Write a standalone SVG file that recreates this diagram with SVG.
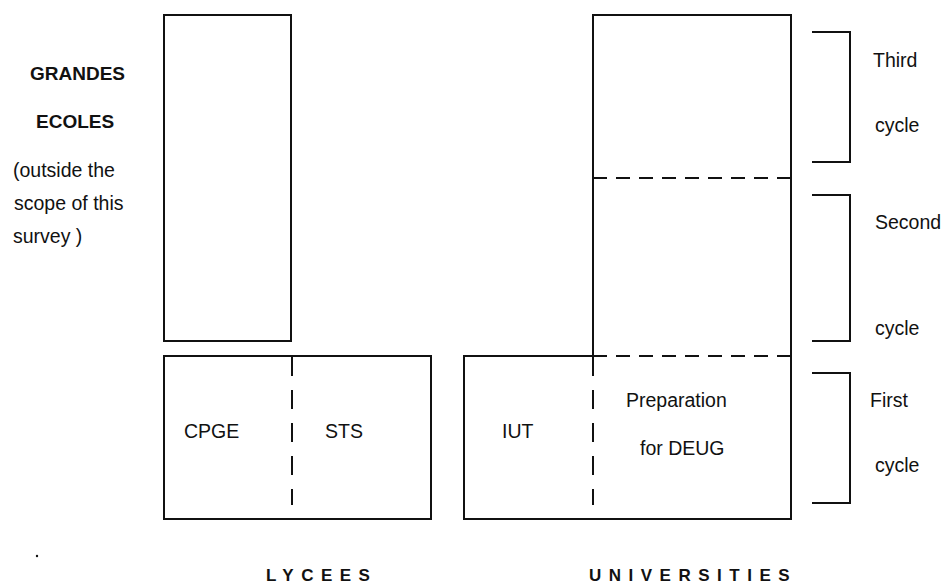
<svg xmlns="http://www.w3.org/2000/svg" width="946" height="585" viewBox="0 0 946 585">
<style>
.box{fill:none;stroke:#111;stroke-width:2}
.dh{fill:none;stroke:#111;stroke-width:2;stroke-dasharray:14 9}
.dv{fill:none;stroke:#111;stroke-width:2;stroke-dasharray:19 14}
.br{fill:none;stroke:#111;stroke-width:2}
text{font-family:"Liberation Sans",Arial,sans-serif;font-size:19.5px;fill:#111}
.b{font-weight:bold;font-size:19px}
.t{font-weight:bold;font-size:17px;letter-spacing:7.5px}
</style>
<rect width="946" height="585" fill="#fff"/>
<g id="grandes-ecoles">
<rect class="box" x="164" y="15" width="127" height="326"/>
<text class="b" x="30" y="80">GRANDES</text>
<text class="b" x="36" y="128">ECOLES</text>
<text x="13" y="177">(outside the</text>
<text x="14" y="210">scope of this</text>
<text x="13" y="243">survey  )</text>
</g>
<g id="lycees">
<rect class="box" x="164" y="356" width="267" height="163"/>
<text x="184" y="438">CPGE</text>
<text x="325" y="438">STS</text>
<text class="t" x="266" y="581">LYCEES</text>
</g>
<g id="universities">
<path class="box" d="M593 356V15H791V356"/>
<path class="box" d="M593 356H464V519H791V356"/>
<text x="502" y="438">IUT</text>
<text x="626" y="407">Preparation</text>
<text x="640" y="455">for DEUG</text>
<text class="t" x="589" y="581">UNIVERSITIES</text>
</g>
<g id="cycles">
<path class="br" d="M812 32H850V162H812"/>
<path class="br" d="M812 195H850V341H812"/>
<path class="br" d="M812 373H850V503H812"/>
<text x="873" y="67">Third</text>
<text x="875" y="132">cycle</text>
<text x="875" y="229">Second</text>
<text x="875" y="335">cycle</text>
<text x="870" y="407">First</text>
<text x="875" y="472">cycle</text>
</g>
<g id="connectors">
<line class="dh" x1="593" y1="178" x2="791" y2="178"/>
<line class="dh" x1="593" y1="356" x2="791" y2="356"/>
<line class="dv" x1="292" y1="357" x2="292" y2="505"/>
<line class="dv" x1="593" y1="357" x2="593" y2="505"/>
</g>
<circle cx="37" cy="556" r="1.2" fill="#111"/>
</svg>
